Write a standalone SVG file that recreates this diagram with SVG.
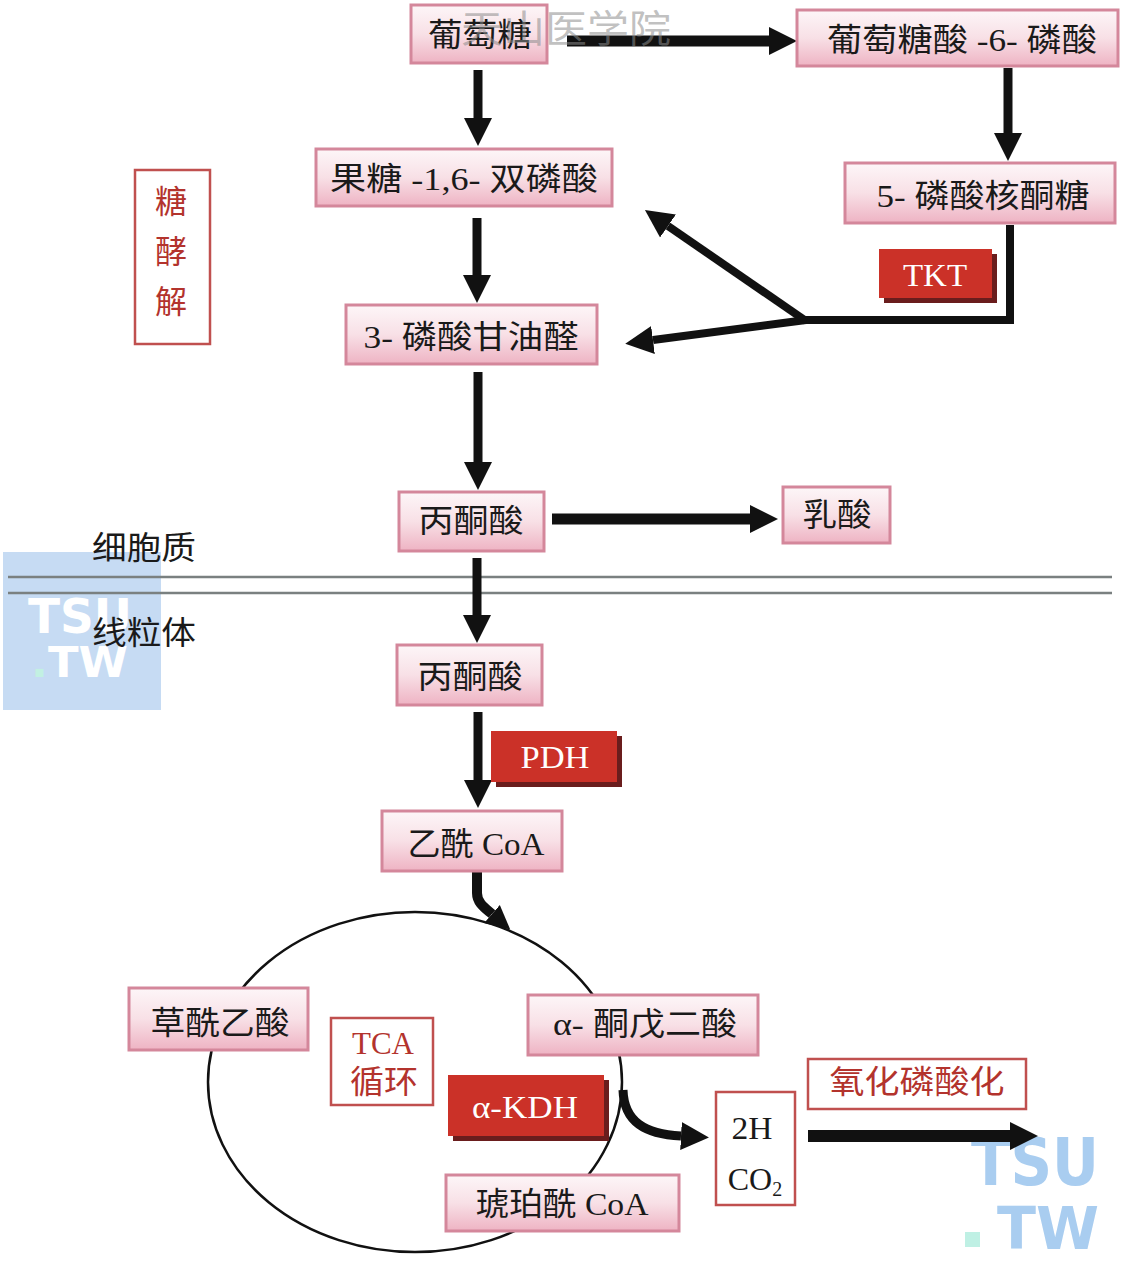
<svg xmlns="http://www.w3.org/2000/svg" width="1123" height="1262" viewBox="0 0 1123 1262">
<style>
.box{stroke:#d4879b;stroke-width:3}
.t{font-family:'Liberation Serif','Noto Sans CJK SC',serif;font-size:32px;fill:#1a1a1a;text-anchor:middle;dominant-baseline:central}
.rt{font-family:'Liberation Serif','Noto Sans CJK SC',serif;font-size:32px;fill:#b3332d;text-anchor:middle;dominant-baseline:central}
.wt{font-family:'Liberation Serif','Noto Sans CJK SC',serif;font-size:32px;fill:#ffffff;text-anchor:middle;dominant-baseline:central}
.rbox{fill:#ffffff;stroke:#c0504f;stroke-width:2.5}
.enz{fill:#cb3128}
.shadow{fill:#6a1d1d}
.ar{stroke:#111;fill:none;marker-end:url(#ah)}
.wm{font-family:'DejaVu Sans',sans-serif;font-weight:bold}
</style>
<defs>
<linearGradient id="pg" x1="0" y1="0" x2="0" y2="1">
<stop offset="0" stop-color="#fdf6f8"/>
<stop offset="0.5" stop-color="#f8e0e6"/>
<stop offset="1" stop-color="#eeb3c3"/>
</linearGradient>
<marker id="ah" markerUnits="userSpaceOnUse" markerWidth="30" markerHeight="32" viewBox="0 -16 30 32" refX="0" refY="0" orient="auto">
<path d="M0,-14 L28,0 L0,14 z" fill="#111"/>
</marker>
<marker id="ahs" markerUnits="userSpaceOnUse" markerWidth="26" markerHeight="28" viewBox="0 -14 26 28" refX="0" refY="0" orient="auto">
<path d="M0,-12 L24,0 L0,12 z" fill="#111"/>
</marker>
</defs>
<rect width="1123" height="1262" fill="#ffffff"/>

<g id="watermark-left">
<rect x="3" y="552" width="158" height="158" fill="#c6dbf3"/>
<text class="wm" x="80" y="633" font-size="48" fill="#ffffff" text-anchor="middle" textLength="104" lengthAdjust="spacingAndGlyphs">TSU</text>
<text class="wm" x="31" y="677" font-size="42" fill="#ffffff" textLength="97" lengthAdjust="spacingAndGlyphs"><tspan fill="#c2f0e2">.</tspan>TW</text>
</g>

<g id="watermark-br">
<text class="wm" x="1035" y="1185" font-size="66" fill="#a9cdf0" text-anchor="middle" textLength="128" lengthAdjust="spacingAndGlyphs">TSU</text>
<rect x="965" y="1232" width="15" height="15" fill="#bff0e4"/>
<text class="wm" x="1048" y="1249" font-size="58" fill="#a9cdf0" text-anchor="middle" textLength="102" lengthAdjust="spacingAndGlyphs">TW</text>
</g>

<g id="membrane">
<line x1="8" y1="577" x2="1112" y2="577" stroke="#7a8080" stroke-width="2.5"/>
<line x1="8" y1="593" x2="1112" y2="593" stroke="#7a8080" stroke-width="2.5"/>
<text class="t" x="144" y="548" textLength="104" lengthAdjust="spacingAndGlyphs">细胞质</text>
<text class="t" x="144" y="633" textLength="104" lengthAdjust="spacingAndGlyphs">线粒体</text>
</g>

<g id="tca-cycle">
<ellipse cx="415" cy="1082" rx="207" ry="170" fill="none" stroke="#111" stroke-width="2.5"/>
</g>

<g id="connectors">
<line class="ar" x1="567" y1="41" x2="769" y2="41" stroke-width="11"/>
<line class="ar" x1="478" y1="70" x2="478" y2="118" stroke-width="9"/>
<line class="ar" x1="1008" y1="68" x2="1008" y2="133" stroke-width="9"/>
<line class="ar" x1="477" y1="218" x2="477" y2="275" stroke-width="9"/>
<polyline points="1010,225 1010,320 805,320" fill="none" stroke="#111" stroke-width="8"/>
<line class="ar" x1="806" y1="321" x2="668" y2="226" stroke-width="8"/>
<line class="ar" x1="806" y1="320" x2="653" y2="340" stroke-width="8"/>
<line class="ar" x1="478" y1="372" x2="478" y2="462" stroke-width="9"/>
<line class="ar" x1="552" y1="519" x2="750" y2="519" stroke-width="11"/>
<line class="ar" x1="477" y1="558" x2="477" y2="615" stroke-width="9"/>
<line class="ar" x1="478" y1="712" x2="478" y2="780" stroke-width="9"/>
<path d="M477,872 L477,893 C477,903 485,908 492,914" fill="none" stroke="#111" stroke-width="10" marker-end="url(#ahs)"/>
<path class="ar" d="M623,1090 C624,1122 645,1134 681,1136" stroke-width="9"/>
<line class="ar" x1="808" y1="1136" x2="1010" y2="1136" stroke-width="12"/>
</g>

<g id="glycolysis-label">
<rect class="rbox" x="135" y="170" width="75" height="174"/>
<text class="rt" x="171" y="202" font-size="34">糖</text>
<text class="rt" x="171" y="252" font-size="34">酵</text>
<text class="rt" x="171" y="302" font-size="34">解</text>
</g>

<g id="n-glucose"><rect class="box" x="411" y="5" width="136" height="58" fill="url(#pg)"/><text class="t" x="480" y="35" textLength="104" lengthAdjust="spacingAndGlyphs">葡萄糖</text></g>
<g id="n-6pg"><rect class="box" x="797" y="10" width="321" height="56" fill="url(#pg)"/><text class="t" x="962" y="40" textLength="270" lengthAdjust="spacingAndGlyphs">葡萄糖酸 -6- 磷酸</text></g>
<g id="n-fbp"><rect class="box" x="316" y="149" width="296" height="57" fill="url(#pg)"/><text class="t" x="464" y="179" textLength="268" lengthAdjust="spacingAndGlyphs">果糖 -1,6- 双磷酸</text></g>
<g id="n-ru5p"><rect class="box" x="845" y="163" width="270" height="60" fill="url(#pg)"/><text class="t" x="983" y="196" textLength="213" lengthAdjust="spacingAndGlyphs">5- 磷酸核酮糖</text></g>
<g id="n-g3p"><rect class="box" x="346" y="305" width="251" height="59" fill="url(#pg)"/><text class="t" x="471" y="337" textLength="215" lengthAdjust="spacingAndGlyphs">3- 磷酸甘油醛</text></g>
<g id="n-pyruvate1"><rect class="box" x="399" y="492" width="145" height="59" fill="url(#pg)"/><text class="t" x="471" y="521" textLength="105" lengthAdjust="spacingAndGlyphs">丙酮酸</text></g>
<g id="n-lactate"><rect class="box" x="783" y="487" width="107" height="56" fill="url(#pg)"/><text class="t" x="837" y="515" textLength="69" lengthAdjust="spacingAndGlyphs">乳酸</text></g>
<g id="n-pyruvate2"><rect class="box" x="397" y="645" width="145" height="60" fill="url(#pg)"/><text class="t" x="470" y="677" textLength="105" lengthAdjust="spacingAndGlyphs">丙酮酸</text></g>
<g id="n-acetylcoa"><rect class="box" x="382" y="811" width="180" height="60" fill="url(#pg)"/><text class="t" x="476" y="844" textLength="137" lengthAdjust="spacingAndGlyphs">乙酰 CoA</text></g>
<g id="n-oaa"><rect class="box" x="129" y="988" width="179" height="62" fill="url(#pg)"/><text class="t" x="220" y="1023" textLength="139" lengthAdjust="spacingAndGlyphs">草酰乙酸</text></g>
<g id="n-akg"><rect class="box" x="528" y="995" width="230" height="60" fill="url(#pg)"/><text class="t" x="645" y="1024" textLength="184" lengthAdjust="spacingAndGlyphs">α- 酮戊二酸</text></g>
<g id="n-succoa"><rect class="box" x="446" y="1175" width="233" height="56" fill="url(#pg)"/><text class="t" x="562" y="1204" textLength="173" lengthAdjust="spacingAndGlyphs">琥珀酰 CoA</text></g>

<g id="n-tca-label">
<rect class="rbox" x="331" y="1018" width="102" height="87"/>
<text class="rt" x="383" y="1043" textLength="62" lengthAdjust="spacingAndGlyphs">TCA</text>
<text class="rt" x="384" y="1082" textLength="68" lengthAdjust="spacingAndGlyphs">循环</text>
</g>
<g id="n-oxphos">
<rect class="rbox" x="808" y="1059" width="218" height="50"/>
<text class="rt" x="917" y="1082" textLength="175" lengthAdjust="spacingAndGlyphs">氧化磷酸化</text>
</g>
<g id="n-2h-co2">
<rect class="rbox" x="716" y="1092" width="79" height="113"/>
<text class="t" x="752" y="1128" textLength="41" lengthAdjust="spacingAndGlyphs">2H</text>
<text class="t" x="755" y="1179">CO<tspan font-size="20" dy="10">2</tspan></text>
</g>

<g id="enz-tkt">
<rect class="shadow" x="884" y="254" width="113" height="49"/>
<rect class="enz" x="879" y="249" width="113" height="49"/>
<text class="wt" x="935" y="275" textLength="64" lengthAdjust="spacingAndGlyphs">TKT</text>
</g>
<g id="enz-pdh">
<rect class="shadow" x="496" y="736" width="126" height="51"/>
<rect class="enz" x="491" y="731" width="126" height="51"/>
<text class="wt" x="555" y="757" textLength="69" lengthAdjust="spacingAndGlyphs">PDH</text>
</g>
<g id="enz-akdh">
<rect class="shadow" x="453" y="1080" width="156" height="61"/>
<rect class="enz" x="448" y="1075" width="156" height="61"/>
<text class="wt" x="525" y="1107" textLength="106" lengthAdjust="spacingAndGlyphs">α-KDH</text>
</g>

<g id="watermark-top">
<text x="566" y="25" font-family="'Noto Sans CJK SC',sans-serif" font-size="38" fill="#8c8c8c" fill-opacity="0.55" text-anchor="middle" dominant-baseline="central" textLength="210" lengthAdjust="spacingAndGlyphs">天山医学院</text>
</g>
</svg>
